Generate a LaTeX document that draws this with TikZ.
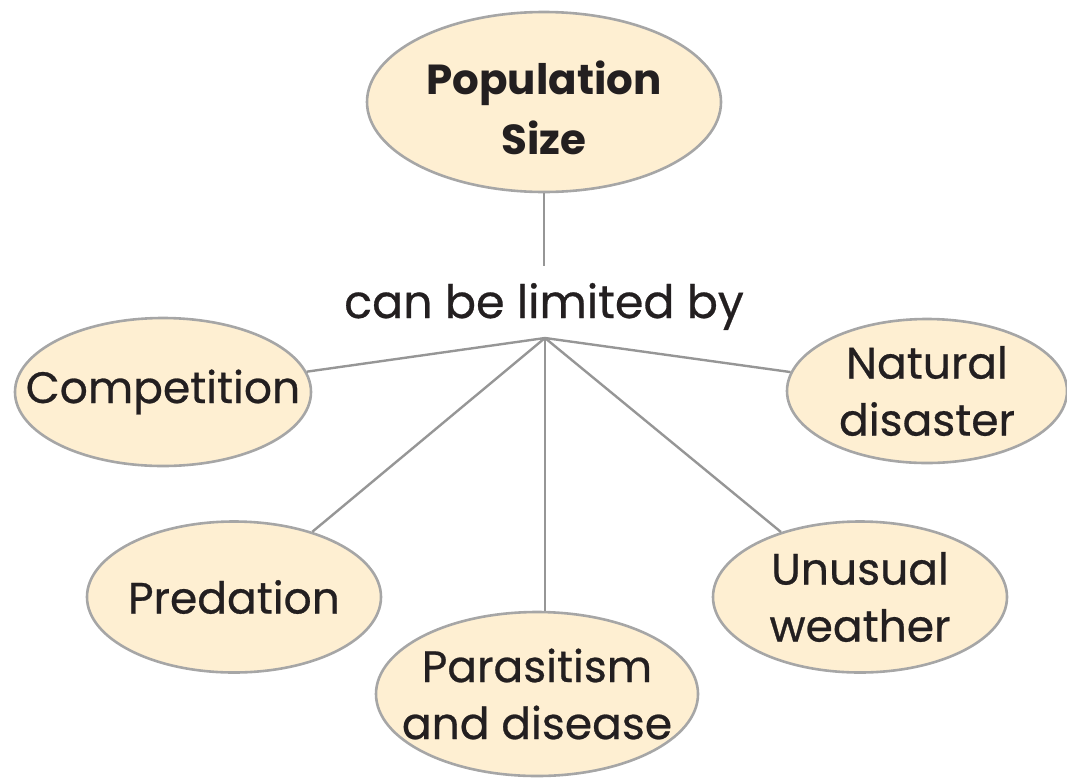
\documentclass[tikz,border=0pt]{standalone}
\usepackage{fontspec}
\setmainfont{Poppins}
\newfontfamily\bodyfont{Poppins}[FakeBold=0.6]
\usetikzlibrary{shapes.geometric}
\definecolor{bubble}{HTML}{FEEFD2}
\definecolor{rim}{HTML}{A6A6A6}
\definecolor{wire}{HTML}{969696}
\definecolor{ink}{HTML}{231F20}
\tikzset{
  concept/.style={ellipse, draw=rim, line width=2.6pt, fill=bubble, inner sep=0pt},
  words/.style={align=center, text=ink, inner sep=0pt, font=\bodyfont\fontsize{44}{57}\selectfont},
  link/.style={draw=wire, line width=2.4pt},
}
\begin{document}
\begin{tikzpicture}[x=1pt,y=-1pt]
  \useasboundingbox (0,0) rectangle (1067,777);
  % central concept and the linking phrase
  \node[concept, minimum width=354pt, minimum height=180pt,
        label={[words, name=popt, font=\fontsize{42}{60}\selectfont\bfseries, yshift=-6pt]center:Population\\Size}]
        (pop) at (544,102) {};
  \node[words, font=\bodyfont\fontsize{46}{52}\selectfont, anchor=base] (lim) at (544,318) {can be limited by};
  \coordinate (top) at (544,266);
  \coordinate (hub) at (545,338);
  % limiting factors
  \node[concept, minimum width=296pt, minimum height=148pt,
        label={[words, name=compt]center:Competition}] (comp) at (163,392) {};
  \node[concept, minimum width=280pt, minimum height=144pt,
        label={[words, name=natt]center:Natural\\disaster}] (nat) at (927,391) {};
  \node[concept, minimum width=294pt, minimum height=151pt,
        label={[words, name=predt]center:Predation}] (pred) at (234,597) {};
  \node[concept, minimum width=294pt, minimum height=151pt,
        label={[words, name=weat]center:Unusual\\weather}] (wea) at (860,597) {};
  \node[concept, minimum width=322pt, minimum height=164pt,
        label={[words, name=part]center:Parasitism\\and disease}] (par) at (537,694) {};
  % connectors
  \draw[link] (pop) -- (top);
  \draw[link] (hub) -- (comp);
  \draw[link] (hub) -- (nat);
  \draw[link] (hub) -- (pred);
  \draw[link] (hub) -- (wea);
  \draw[link] (hub) -- (par.north -| hub);
\end{tikzpicture}
\end{document}
